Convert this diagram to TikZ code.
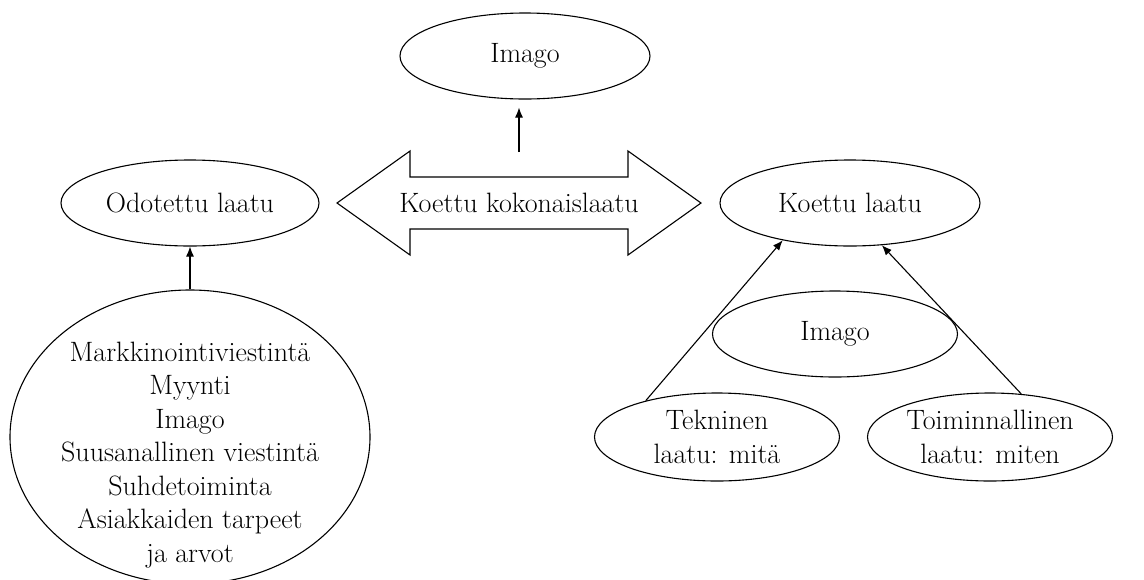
\documentclass[tikz,border=0pt]{standalone}
\usetikzlibrary{shapes.geometric,calc,arrows.meta}
\begin{document}
\begin{tikzpicture}[
    x=1pt, y=-1pt, line width=1.1pt,
    every node/.style={font=\fontsize{28}{33.5}\selectfont},
    oval/.style={ellipse, draw, inner sep=0pt, minimum width=245pt, minimum height=86pt, align=center},
    arrow/.style={-{Latex[length=10pt,width=8pt]}}
]
    \clip (0,0) rectangle (1144,579);

    % Ovals
    \node[oval, minimum width=250pt] (imagotop) at (525,56) {Imago};
    \node[oval, minimum width=258pt] (expected) at (190,203) {Odotettu laatu};
    \node[oval, minimum width=260pt] (perceived) at (850,203) {Koettu laatu};
    \node[oval] (imagomid) at (835,334) {Imago};
    \node[oval, minimum height=88pt] (technical) at (717,437) {Tekninen\\laatu: mitä};
    \node[oval, minimum height=88pt] (functional) at (990,437) {Toiminnallinen\\laatu: miten};
    \node[oval, minimum width=360pt, minimum height=294pt] (sources) at (190,437) {};
    \node[align=center] (sourcelist) at (190,455) {Markkinointiviestintä\\Myynti\\Imago\\Suusanallinen viestintä\\Suhdetoiminta\\Asiakkaiden tarpeet\\ja arvot};

    % Total quality double arrow
    \node (total) at (519,203) {Koettu kokonaislaatu};
    \draw ($(total)+(-182,0)$) -- ++(73,-52) -- ++(0,26) -- ++(218,0) -- ++(0,-26)
        -- ($(total)+(182,0)$) -- ++(-73,52) -- ++(0,-26) -- ++(-218,0) -- ++(0,26) -- cycle;
    \coordinate (totaltop) at (519,152);

    % Influences
    \draw[arrow, shorten >=8pt] (totaltop) -- (totaltop |- imagotop.south);
    \draw[arrow] (sources.north) -- (expected.south);
    \draw[arrow] (technical.153) -- (perceived.209);
    \draw[arrow] (functional.54) -- (perceived.307);
\end{tikzpicture}
\end{document}
